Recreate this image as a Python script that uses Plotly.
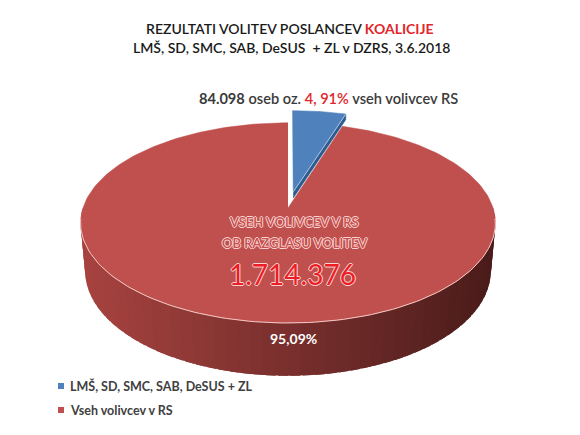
import numpy as np
import plotly.graph_objects as go

# ---- data ----
categories = ["LMŠ, SD, SMC, SAB, DeSUS + ZL", "Vseh volivcev v RS"]
values = [84098, 1630278]
total_voters = 1714376
pct_labels = ["4, 91%", "95,09%"]
colors = ["#4F81BD", "#C0504D"]

# ---- 3D pie projection ----
W, H = 580, 435
CX, CY = 288, 208
F = 1210.0
D = 5.9
PHI = np.radians(28.5)
DEPTH = 0.27
EXPLODE = [0.17, 0.0]
cphi, sphi = np.cos(PHI), np.sin(PHI)


def proj(X, Y, Z):
    X = np.asarray(X, float); Y = np.asarray(Y, float); Z = np.asarray(Z, float)
    vy = Y + D * cphi
    vz = Z - D * sphi
    depth = vy * cphi - vz * sphi
    up = vy * sphi + vz * cphi
    return CX + F * X / depth, CY - F * up / depth


fr = np.array(values, float) / sum(values)
bounds = np.concatenate([[0], np.cumsum(fr)]) * 360.0

fig = go.Figure()


def poly(xs, ys, fill, line=None, lw=0.8):
    fig.add_trace(go.Scatter(x=list(xs), y=list(ys), mode="lines", fill="toself",
                             fillcolor=fill, line=dict(color=line or fill, width=lw),
                             hoverinfo="skip", showlegend=False))


def line(xs, ys, color, lw=1.0):
    fig.add_trace(go.Scatter(x=list(xs), y=list(ys), mode="lines",
                             line=dict(color=color, width=lw),
                             hoverinfo="skip", showlegend=False))


# blue slice (exploded, at back)
a0, a1 = bounds[0], bounds[1]
mid = np.radians((a0 + a1) / 2)
ex, ey = EXPLODE[0] * np.sin(mid), EXPLODE[0] * np.cos(mid)
th = np.radians(np.linspace(a0, a1, 30))
fd = 0.035
rx, ry = np.sin(np.radians(a1)) + ex, np.cos(np.radians(a1)) + ey
qx, qy = proj([ex, rx, rx, ex], [ey, ry, ry, ey], [0, 0, -fd, -fd])
poly(qx, qy, "#2F5C8F", lw=0.5)
bx, by = proj(np.concatenate([[ex], np.sin(th) + ex]),
              np.concatenate([[ey], np.cos(th) + ey]), np.zeros(31))
poly(bx, by, colors[0], lw=0.5)
lx, ly = proj([ex, rx], [ey, ry], [0, 0])
line(lx, ly, "#A9C4E6", 1.0)

# red slice side (front part) with gradient; overlapping segments hide seams
segs = np.linspace(90, 270, 61)
step = segs[1] - segs[0]
cl = np.array([168, 67, 64]); cr = np.array([72, 27, 26])
for i in range(len(segs) - 1):
    hi = min(segs[i + 1] + step * 0.8, 270)
    t = np.radians(np.linspace(segs[i], hi, 4))
    X = np.concatenate([np.sin(t), np.sin(t[::-1])])
    Y = np.concatenate([np.cos(t), np.cos(t[::-1])])
    Z = np.concatenate([np.zeros(4), -DEPTH * np.ones(4)])
    sx, sy = proj(X, Y, Z)
    u = np.clip((sx.mean() - 80) / 420, 0, 1)
    c = (cl + (cr - cl) * u).astype(int)
    col = "rgb(%d,%d,%d)" % tuple(c)
    poly(sx, sy, col, lw=0)

# red top
th = np.radians(np.linspace(bounds[1], bounds[2], 240))
tx, ty = proj(np.concatenate([[0], np.sin(th)]), np.concatenate([[0], np.cos(th)]), np.zeros(241))
poly(tx, ty, colors[1], lw=0.5)
# rim highlight
th = np.radians(np.linspace(96, 264, 120))
hx, hy = proj(np.sin(th), np.cos(th), np.zeros(120))
line(hx, hy, "#F3C9C7", 1.0)

FONT = "Lato, 'Open Sans', 'DejaVu Sans', sans-serif"
ann = []
ann.append(dict(x=290, y=28, text="REZULTATI VOLITEV POSLANCEV <span style='color:#E3262B'><b>KOALICIJE</b></span>",
                font=dict(family=FONT, size=14, color="#1a1a1a", weight=600)))
ann.append(dict(x=291, y=47, text="LMŠ, SD, SMC, SAB, DeSUS  + ZL v DZRS, 3.6.2018",
                font=dict(family=FONT, size=14, color="#1a1a1a", weight=600)))
ann.append(dict(x=328, y=98,
                text="<b>%s</b> oseb oz. <span style='color:#E3262B'>%s</span> vseh volivcev RS"
                     % (f"{values[0]:,}".replace(",", "."), pct_labels[0]),
                font=dict(family=FONT, size=14.6, color="#3a3a3a", weight=600)))
oc = "#F6D3D2"
outline_l = f"1px 0 0 {oc}, -1px 0 0 {oc}, 0 1px 0 {oc}, 0 -1px 0 {oc}"
ann.append(dict(x=294, y=222, text="VSEH VOLIVCEV V RS",
                font=dict(family=FONT, size=13, color="#C9504D", weight=600, shadow=outline_l)))
ann.append(dict(x=294, y=243, text="OB RAZGLASU VOLITEV",
                font=dict(family=FONT, size=13, color="#C9504D", weight=600, shadow=outline_l)))
ann.append(dict(x=292, y=274, text=f"{total_voters:,}".replace(",", "."),
                font=dict(family=FONT, size=28, color="#EE1C25", shadow=outline_l)))
ann.append(dict(x=293, y=338, text="<b>%s</b>" % pct_labels[1],
                font=dict(family=FONT, size=14, color="#FFFFFF")))

# legend
leg_y = [386, 410]
for i, name in enumerate(categories):
    fig.add_trace(go.Scatter(x=[61], y=[leg_y[i]], mode="markers",
                             marker=dict(symbol="square", size=6, color=colors[i]),
                             hoverinfo="skip", showlegend=False))
    ann.append(dict(x=68, y=leg_y[i], text="<b>%s</b>" % name, xanchor="left",
                    font=dict(family=FONT, size=12.5, color="#404040")))

for a in ann:
    a.setdefault("xanchor", "center")
    a.update(yanchor="middle", showarrow=False, xref="x", yref="y")

fig.update_layout(
    width=W, height=H, margin=dict(l=0, r=0, t=0, b=0),
    paper_bgcolor="white", plot_bgcolor="white",
    xaxis=dict(range=[0, W], visible=False, fixedrange=True),
    yaxis=dict(range=[H, 0], visible=False, fixedrange=True),
    annotations=ann, showlegend=False,
)
fig.write_html("out.html", config={"displayModeBar": False},
               post_script="document.body.style.margin='0';document.body.style.overflow='hidden';")
